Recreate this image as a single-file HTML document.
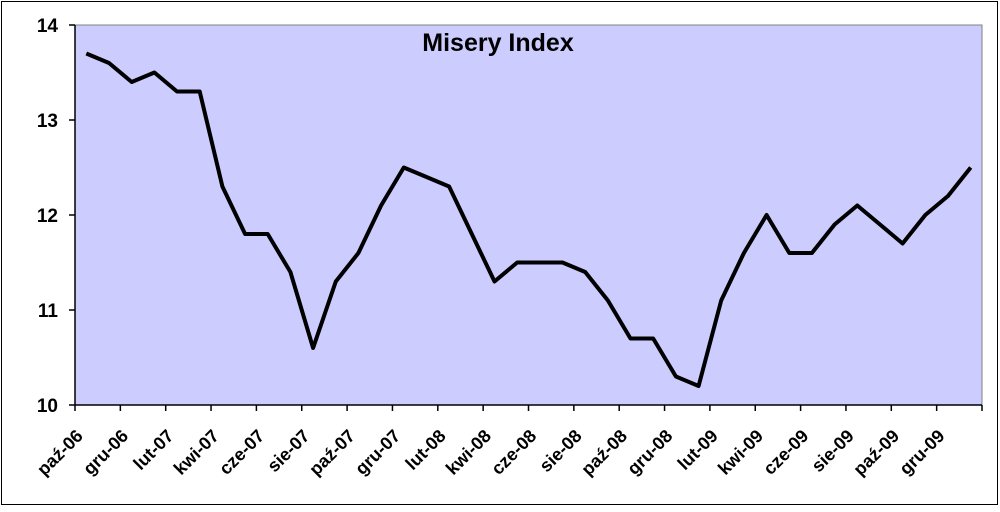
<!DOCTYPE html>
<html><head><meta charset="utf-8"><style>body{margin:0;background:#fff}</style></head><body>
<svg width="1000" height="507" xmlns="http://www.w3.org/2000/svg" font-family="Liberation Sans, sans-serif" font-weight="bold">
<rect x="1.5" y="1.5" width="996" height="503" fill="#fff" stroke="#000" stroke-width="1"/>
<rect x="75" y="25" width="907" height="380" fill="#CCCCFF" stroke="#808080" stroke-width="1"/>
<g stroke="#000" stroke-width="1.5">
<line x1="75" y1="25" x2="75" y2="405"/>
<line x1="75" y1="405" x2="982" y2="405"/>
<line x1="69" y1="25" x2="75" y2="25"/><line x1="69" y1="120" x2="75" y2="120"/><line x1="69" y1="215" x2="75" y2="215"/><line x1="69" y1="310" x2="75" y2="310"/><line x1="69" y1="405" x2="75" y2="405"/>
</g>
<g font-size="19" text-anchor="end">
<text x="58" y="32">14</text><text x="58" y="127">13</text><text x="58" y="222">12</text><text x="58" y="317">11</text><text x="58" y="412">10</text>
</g>
<g id="xt" stroke="#000" stroke-width="1.5"></g>
<g id="xl" font-size="18" text-anchor="end"></g>
<text x="498" y="51" font-size="25" text-anchor="middle">Misery Index</text>
<polyline id="ln" fill="none" stroke="#000" stroke-width="4" stroke-linejoin="round"/>
<script>
var v=[13.7,13.6,13.4,13.5,13.3,13.3,12.3,11.8,11.8,11.4,10.6,11.3,11.6,12.1,12.5,12.4,12.3,11.8,11.3,11.5,11.5,11.5,11.4,11.1,10.7,10.7,10.3,10.2,11.1,11.6,12.0,11.6,11.6,11.9,12.1,11.9,11.7,12.0,12.2,12.5];
var w=907/40,p=[];
v.forEach(function(d,i){p.push((75+w*(i+0.5)).toFixed(1)+","+(405-(d-10)*95).toFixed(1));});
document.getElementById("ln").setAttribute("points",p.join(" "));
var ns="http://www.w3.org/2000/svg",t=document.getElementById("xt"),l=document.getElementById("xl");
var lab=["paź-06","gru-06","lut-07","kwi-07","cze-07","sie-07","paź-07","gru-07","lut-08","kwi-08","cze-08","sie-08","paź-08","gru-08","lut-09","kwi-09","cze-09","sie-09","paź-09","gru-09"];
for(var i=0;i<=20;i++){var x=75+w*2*i;var ln=document.createElementNS(ns,"line");ln.setAttribute("x1",x);ln.setAttribute("x2",x);ln.setAttribute("y1",405);ln.setAttribute("y2",411);t.appendChild(ln);}
for(var i=0;i<20;i++){var x=75+w*2*i;var tx=document.createElementNS(ns,"text");tx.setAttribute("transform","translate("+(x+9)+",437) rotate(-45)");tx.textContent=lab[i];l.appendChild(tx);}
</script>
</svg>
</body></html>
